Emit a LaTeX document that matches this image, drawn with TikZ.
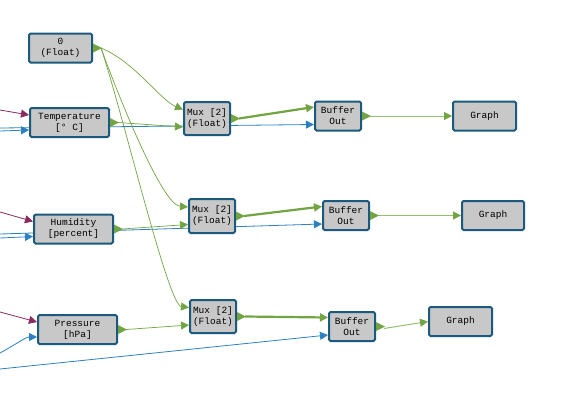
\documentclass[tikz,border=0pt]{standalone}
\usepackage{fontspec}
\newfontfamily\blockfont{Liberation Mono}
\usetikzlibrary{arrows.meta,calc,backgrounds}
\definecolor{blockedge}{HTML}{1B5A7E}
\definecolor{blockfill}{HTML}{C8C8C8}
\definecolor{flowgreen}{HTML}{72A443}
\definecolor{lightgreen}{HTML}{96BE70}
\definecolor{flowblue}{HTML}{2A80C0}
\definecolor{flowpurple}{HTML}{8A2A5E}
\begin{document}
\begin{tikzpicture}[x=1pt, y=-1pt,
  block/.style={rectangle, draw=blockedge, fill=blockfill, line width=2pt,
                rounded corners=1.5pt, inner sep=0pt, align=center,
                minimum width=#1, minimum height=29pt,
                font=\blockfont\fontsize{9.5}{11}\selectfont},
  block/.default=46pt,
  green/.style={-{Triangle[length=8pt,width=8pt]}, draw=flowgreen, line width=0.7pt},
  bold/.style={-{Triangle[length=8pt,width=8pt]}, draw=flowgreen, line width=2.2pt},
  pale/.style={-{Triangle[length=8pt,width=8pt,color=flowgreen]}, draw=lightgreen, line width=1pt},
  blue/.style={-{Triangle[length=8pt,width=8pt]}, draw=flowblue, line width=0.8pt},
  purple/.style={-{Triangle[length=8pt,width=8pt]}, draw=flowpurple, line width=0.8pt}
]
  \useasboundingbox (0,0) rectangle (562,413);

  % ── Sources ────────────────────────────────────────────────────────────
  \node[block=63pt] (zero) at ( 60.5, 48)   {0\\(Float)};
  \node[block=79pt] (temp) at ( 69.5,122.5) {Temperature\\{[}° C{]}};
  \node[block=79pt] (hum)  at ( 73.5,229)   {Humidity\\{[}percent{]}};
  \node[block=79pt] (pres) at ( 77.5,329.5) {Pressure\\{[}hPa{]}};

  % ── Multiplexers ───────────────────────────────────────────────────────
  \node[block, minimum height=33pt] (mux1) at (207,118.5) {Mux [2]\\(Float)};
  \node[block, minimum height=34pt] (mux2) at (212,216)   {Mux [2]\\(Float)};
  \node[block, minimum height=33pt] (mux3) at (213,316.5) {Mux [2]\\(Float)};

  % ── Buffers ────────────────────────────────────────────────────────────
  \node[block] (buf1) at (338,116)   {Buffer\\Out};
  \node[block] (buf2) at (346,215.5) {Buffer\\Out};
  \node[block] (buf3) at (352,326.5) {Buffer\\Out};

  % ── Graphs ─────────────────────────────────────────────────────────────
  \node[block=63pt] (graph1) at (484.5,116)   {Graph};
  \node[block=62pt] (graph2) at (493,215.5)   {Graph};
  \node[block=63pt] (graph3) at (460.5,321.5) {Graph};

  % ── Ports ──────────────────────────────────────────────────────────────
  \foreach \n in {zero,temp,hum,pres,mux1,mux2,mux3,buf1,buf2,buf3} {
    \fill[flowgreen] ($(\n.east)+(0,-4.5)$) -- ++(9,4.5) -- ++(-9,4.5) -- cycle;
    \coordinate (\n-out) at ($(\n.east)+(8,0)$);
  }
  \foreach \n in {mux1,mux2,mux3,buf1,buf2,buf3} {
    \coordinate (\n-a) at ($(\n.west)+(0,-9)$);
    \coordinate (\n-b) at ($(\n.west)+(0,8.5)$);
  }
  \foreach \n in {temp,hum,pres} {
    \coordinate (\n-a) at ($(\n.west)+(0,-7.5)$);
    \coordinate (\n-b) at ($(\n.west)+(0,7.5)$);
  }

  % ── Off-picture inputs ─────────────────────────────────────────────────
  \coordinate (tempP)  at (0,110);
  \coordinate (tempB)  at (0,131);
  \coordinate (tempT)  at (0,128);
  \coordinate (humP)   at (0,212);
  \coordinate (humB)   at (0,238);
  \coordinate (humT)   at (0,234);
  \coordinate (presP)  at (0,312);
  \coordinate (presB)  at (0,353);
  \coordinate (presT)  at (0,369);

  \begin{scope}[on background layer]
    % inputs from the left
    \draw[purple] (tempP) -- (temp-a);
    \draw[blue]   (tempB) -- (temp-b);
    \draw[blue]   (tempT) -- (buf1-b);
    \draw[purple] (humP)  -- (hum-a);
    \draw[blue]   (humB)  -- (hum-b);
    \draw[blue]   (humT)  -- (buf2-b);
    \draw[purple] (presP) -- (pres-a);
    \draw[blue]   (presB) .. controls (18,343) and (26,337) .. (pres-b);
    \draw[blue]   (presT) -- (buf3-b);

    % constant 0 into every multiplexer
    \draw[green] (zero-out) .. controls (135,62) and (160,100) .. (mux1-a);
    \draw[green] (zero-out) .. controls (118,95) and (162,205) .. (mux2-a);
    \draw[green] (zero-out) .. controls (122,110) and (168,305) .. (mux3-a);

    % sensors into multiplexers
    \draw[green] (temp-out) -- (mux1-b);
    \draw[green] (hum-out)  -- (mux2-b);
    \draw[green] (pres-out) -- (mux3-b);

    % multiplexers into buffers
    \draw[bold] (mux1-out) -- (buf1-a);
    \draw[bold] (mux2-out) -- (buf2-a);
    \draw[bold] (mux3-out) -- (buf3-a);

    % buffers into graphs
    \draw[pale] (buf1-out) -- (graph1);
    \draw[pale] (buf2-out) -- (graph2);
    \draw[pale] ($(buf3-out)+(0,2)$) -- (graph3.west);
  \end{scope}
\end{tikzpicture}
\end{document}
